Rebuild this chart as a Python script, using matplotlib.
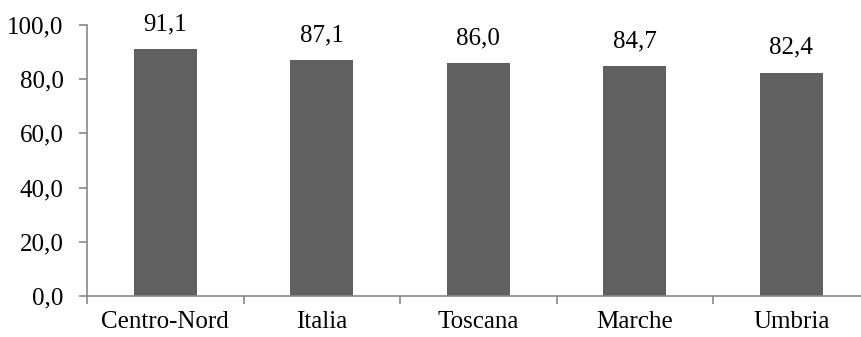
import matplotlib.pyplot as plt
import numpy as np

regions = ["Centro-Nord", "Italia", "Toscana", "Marche", "Umbria"]
values = [91.1, 87.1, 86.0, 84.7, 82.4]
yticks = [0, 20, 40, 60, 80, 100]

plt.rcParams['font.family'] = ['Liberation Serif', 'DejaVu Serif']
fs = 18

fig = plt.figure(figsize=(8.61, 3.37), dpi=100)
ax = fig.add_axes([87 / 861, 41 / 337, 782.5 / 861, 271 / 337])

x = np.arange(len(regions))
ax.bar(x, values, width=0.4, color='#606060')

for xi, v in zip(x, values):
    ax.annotate(f"{v:.1f}".replace('.', ','), (xi, v), xytext=(0, 10),
                textcoords='offset points', ha='center', va='bottom', fontsize=fs)

ax.set_xlim(-0.5, 4.5)
ax.set_ylim(0, 100)
ax.set_yticks(yticks)
ax.set_yticklabels([f"{t:.1f}".replace('.', ',') for t in yticks], fontsize=fs)

# category separators as ticks
ax.set_xticks(np.arange(-0.5, 5.0, 1.0))
ax.set_xticklabels([])
ax.set_xticks(x, minor=True)
ax.set_xticklabels(regions, minor=True, fontsize=fs)
ax.tick_params(axis='x', which='minor', length=0, pad=11)
ax.tick_params(axis='x', which='major', length=6, color='#888888', width=1.2)
ax.tick_params(axis='y', length=6, color='#888888', width=1.2, pad=11)

for s in ['top', 'right']:
    ax.spines[s].set_visible(False)
for s in ['left', 'bottom']:
    ax.spines[s].set_color('#888888')
    ax.spines[s].set_linewidth(1.2)

fig.savefig('out.png', dpi=100)
